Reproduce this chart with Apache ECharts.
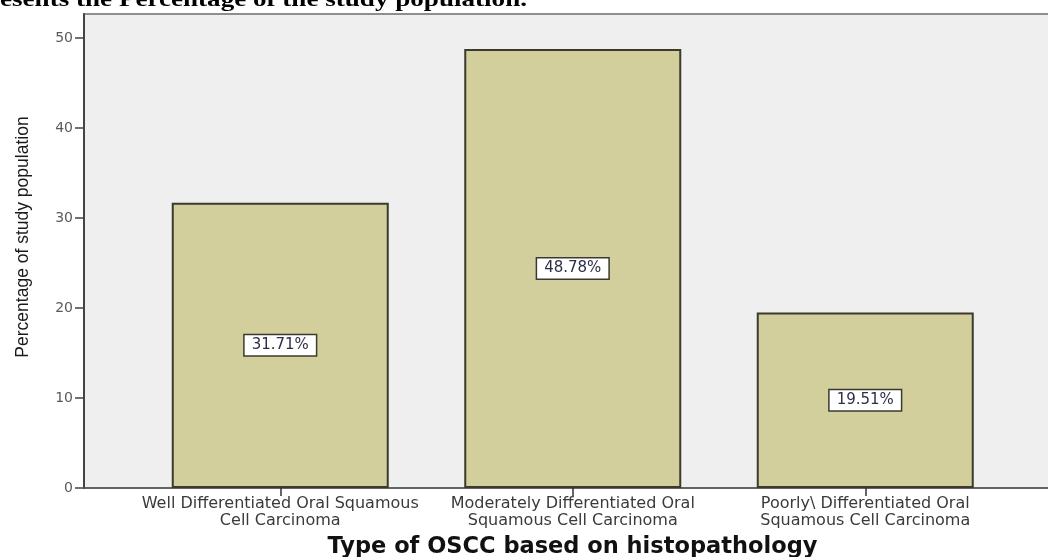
<!DOCTYPE html>
<html>
<head>
<meta charset="utf-8">
<script src="https://cdn.jsdelivr.net/npm/echarts@6/dist/echarts.min.js"></script>
<style>
  html, body { margin: 0; padding: 0; background: #ffffff; }
  #chart { width: 1048px; height: 557px; }
</style>
</head>
<body>
<div id="chart"></div>
<script>
// Histopathological grade of oral squamous cell carcinoma (OSCC)
const categories = [
  'Well Differentiated Oral Squamous\nCell Carcinoma',
  'Moderately Differentiated Oral\nSquamous Cell Carcinoma',
  'Poorly\\ Differentiated Oral\nSquamous Cell Carcinoma'
];
const percentValues = [31.71, 48.78, 19.51];
const yTicks = [0, 10, 20, 30, 40, 50];
const yMax = 52.67;

const captionText = 'esents the Percentage of the study population.';
const yTitle = 'Percentage of study population';
const xTitle = 'Type of OSCC based on histopathology';

const chart = echarts.init(document.getElementById('chart'), null, { renderer: 'canvas' });

chart.setOption({
  animation: false,
  backgroundColor: '#ffffff',
  graphic: [{
    type: 'text',
    x: 0,
    y: -10,
    scaleX: 1.29,
    originX: 0,
    style: {
      text: captionText,
      font: 'bold 21px "Liberation Serif", "Times New Roman", serif',
      fill: '#000000',
      verticalAlign: 'top'
    }
  }],
  grid: [
    // frame: background panel and the visible axes
    { left: 84, top: 14, width: 977, height: 474, show: true, outerBoundsMode: 'none',
      backgroundColor: '#efefef', borderColor: '#8e8e8e', borderWidth: 2 },
    // inner band holding the bars
    { left: 134, top: 14, width: 877.5, height: 474, outerBoundsMode: 'none' }
  ],
  xAxis: [
    {
      gridIndex: 0, type: 'value', min: 0, max: 1,
      axisLine: { show: true, lineStyle: { color: '#555555', width: 1.5 } },
      axisTick: { show: false }, axisLabel: { show: false }, splitLine: { show: false },
      name: xTitle, nameLocation: 'middle', nameGap: 48,
      nameTextStyle: { fontFamily: 'DejaVu Sans', fontWeight: 'bold', fontSize: 22.5, color: '#111111' }
    },
    {
      gridIndex: 1, type: 'category', data: categories,
      axisLine: { show: false },
      axisTick: { show: true, alignWithLabel: true, length: 8, lineStyle: { color: '#333333', width: 1.5 } },
      axisLabel: { interval: 0, margin: 7, fontFamily: 'DejaVu Sans', fontSize: 16, lineHeight: 17, color: '#3a3a3a' },
      splitLine: { show: false }
    }
  ],
  yAxis: [
    {
      gridIndex: 0, type: 'value', min: 0, max: yMax, interval: 10,
      axisLine: { show: true, lineStyle: { color: '#444444', width: 2 } },
      axisTick: { show: true, length: 9, customValues: yTicks, lineStyle: { color: '#444444', width: 1.5 } },
      axisLabel: { margin: 11, customValues: yTicks, fontFamily: 'DejaVu Sans', fontSize: 14, color: '#5a5a5a' },
      splitLine: { show: false },
      name: yTitle, nameLocation: 'middle', nameGap: 52,
      nameTextStyle: { fontFamily: 'Liberation Sans', fontSize: 17.5, color: '#1a1a1a', padding: [0, 0, 0, 28] }
    },
    {
      gridIndex: 1, type: 'value', min: 0, max: yMax, show: false,
      splitLine: { show: false }
    }
  ],
  series: [{
    type: 'bar',
    xAxisIndex: 1,
    yAxisIndex: 1,
    data: percentValues,
    barWidth: 217,
    itemStyle: { color: '#d3cf9c', borderColor: '#3b3a2c', borderWidth: 2 },
    label: {
      show: true,
      position: 'inside',
      formatter: p => p.value.toFixed(2) + '%',
      fontFamily: 'DejaVu Sans',
      fontSize: 15,
      color: '#2e2e48',
      backgroundColor: '#ffffff',
      borderColor: '#3a3a30',
      borderWidth: 1.5,
      padding: [3, 7, 2, 7]
    }
  }]
});
</script>
</body>
</html>
